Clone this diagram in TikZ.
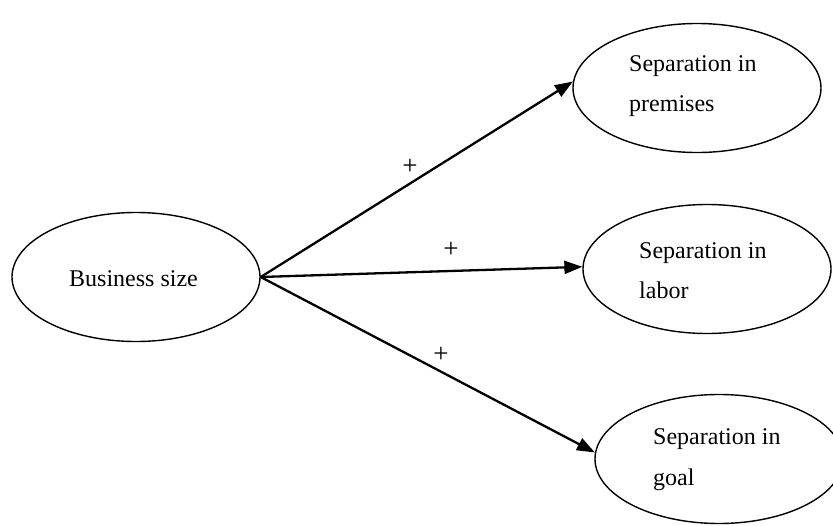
\documentclass[tikz,border=0pt]{standalone}
\usepackage{fontspec}
\setmainfont{Liberation Serif}
\usetikzlibrary{shapes.geometric,arrows.meta}

\tikzset{
  oval/.style={draw=black, line width=1.4pt, ellipse, inner sep=0pt,
               minimum width=248pt, minimum height=129pt},
  label/.style={anchor=base west, inner sep=0pt, font=\fontsize{24}{28}\selectfont},
  sign/.style={inner sep=0pt, font=\fontsize{27}{30}\selectfont},
  link/.style={draw=black, line width=2.3pt,
               -{Triangle[length=18pt,width=13pt]}}
}

\begin{document}
\begin{tikzpicture}[x=1pt, y=-1pt]
  \clip (0,0) rectangle (833,525);

  % ovals
  \node[oval] (size)     at (136,277) {};
  \node[oval] (premises) at (697,88)  {};
  \node[oval] (labor)    at (707,269) {};
  \node[oval] (goal)     at (719,459) {};

  % captions
  \node[label] (tsize) at (69,286)  {Business size};
  \node[label] (tp1)   at (629,71)  {Separation in};
  \node[label] (tp2)   at (629,111) {premises};
  \node[label] (tl1)   at (639,258) {Separation in};
  \node[label] (tl2)   at (639,298) {labor};
  \node[label] (tg1)   at (653,444) {Separation in};
  \node[label] (tg2)   at (653,485) {goal};

  % effects
  \draw[link] (size.east) -- (premises.177);
  \draw[link] (size.east) -- (labor.179);
  \draw[link] (size.east) -- (goal.177);

  % signs
  \node[sign] (s1) at (410,167) {+};
  \node[sign] (s2) at (451,250) {+};
  \node[sign] (s3) at (441,355) {+};
\end{tikzpicture}
\end{document}
